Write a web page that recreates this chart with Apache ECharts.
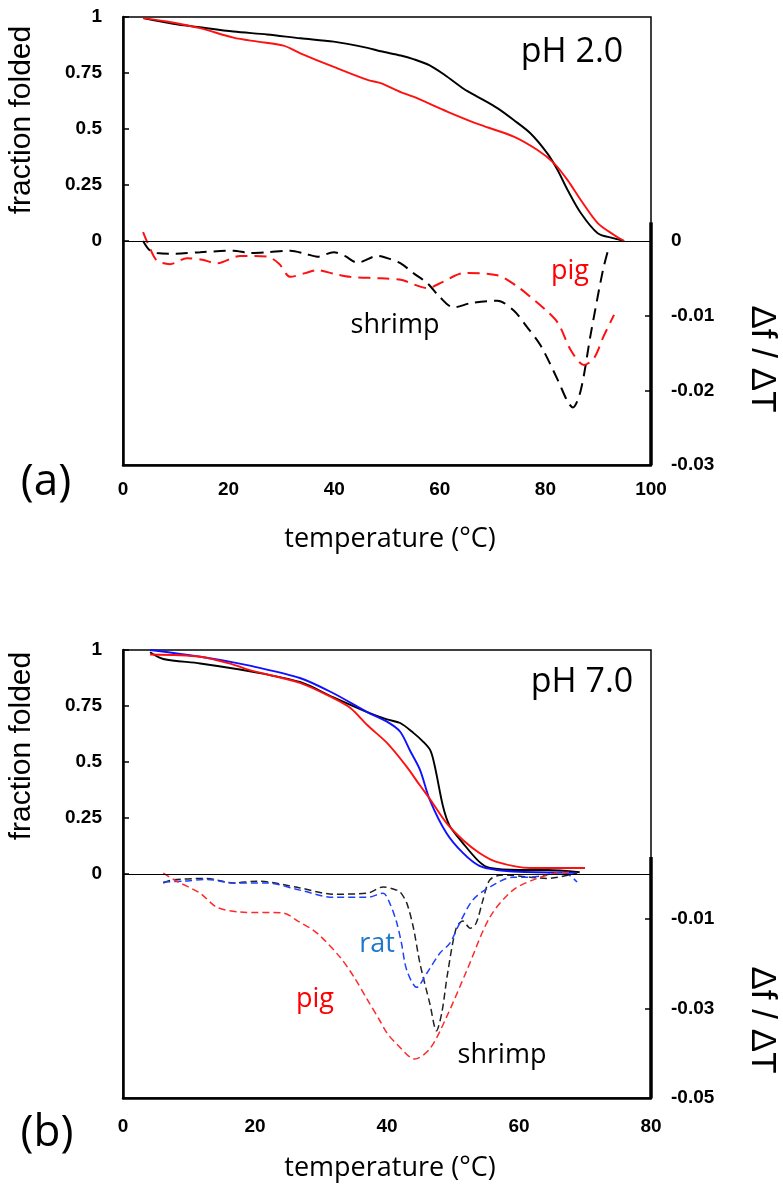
<!DOCTYPE html>
<html>
<head>
<meta charset="utf-8">
<script src="https://cdn.jsdelivr.net/npm/echarts@6/dist/echarts.min.js"></script>
<style>
html,body{margin:0;padding:0;background:#fff;}
#chart{width:783px;height:1184px;}
</style>
</head>
<body>
<div id="chart"></div>
<script>
// ---------- Panel (a): pH 2.0 ----------
const a_shrimpT = [3.8, 9.5, 14.6, 20.9, 27.3, 33.6, 39.9, 46.3, 48.8, 52.6, 55.0, 58.0, 61.0, 64.5, 67.7, 70.9, 74.0, 77.2, 80.4, 82.3, 84.2, 86.7, 89.9, 93.0, 94.9];
const a_shrimpF = [0.995, 0.97, 0.954, 0.935, 0.922, 0.905, 0.89, 0.862, 0.847, 0.828, 0.812, 0.785, 0.74, 0.68, 0.637, 0.593, 0.54, 0.48, 0.39, 0.317, 0.228, 0.125, 0.035, 0.012, 0.0];
const a_pigT = [3.8, 8.3, 14.6, 20.9, 25.5, 30.4, 33.6, 39.8, 46.3, 48.8, 52.6, 55.0, 61.5, 67.7, 74.0, 78.5, 81.6, 84.2, 86.7, 89.9, 93.0, 94.9];
const a_pigF = [0.995, 0.98, 0.95, 0.908, 0.89, 0.872, 0.838, 0.778, 0.719, 0.705, 0.665, 0.644, 0.577, 0.518, 0.466, 0.406, 0.348, 0.272, 0.183, 0.08, 0.027, 0.0];
const a_shrimpDT = [3.8, 5.0, 6.4, 10, 14.6, 20.9, 24, 27.3, 31.7, 34.5, 36.8, 39.9, 42, 44.4, 48.2, 50.5, 52.6, 55, 57.7, 60, 62.6, 66, 70.9, 74, 76.5, 79.1, 82.4, 84.2, 85.2, 86.7, 88.6, 90.9, 92];
const a_shrimpD = [0.0, -0.0012, -0.0016, -0.0017, -0.0015, -0.0013, -0.0016, -0.0015, -0.0013, -0.0017, -0.0021, -0.0015, -0.002, -0.0029, -0.002, -0.0024, -0.003, -0.0043, -0.0057, -0.0075, -0.0089, -0.0083, -0.008, -0.0093, -0.0115, -0.014, -0.0187, -0.0215, -0.0223, -0.02, -0.0124, -0.0039, -0.0009];
const a_pigDT = [3.8, 5.0, 6.4, 8.9, 12.1, 15.0, 17.8, 22.2, 27.3, 29.5, 31.7, 34.5, 36.8, 40, 43, 48.8, 52.6, 57.7, 60.5, 64.5, 70.9, 74.5, 77.2, 80, 82.4, 84.8, 87.3, 89.2, 91, 93];
const a_pigD = [0.0012, -0.0008, -0.0026, -0.0031, -0.0023, -0.0025, -0.003, -0.002, -0.0021, -0.003, -0.0048, -0.0043, -0.0039, -0.0044, -0.0048, -0.005, -0.0052, -0.0063, -0.0055, -0.0043, -0.0046, -0.006, -0.0075, -0.0092, -0.011, -0.0146, -0.0166, -0.0157, -0.0128, -0.0099];

// ---------- Panel (b): pH 7.0 ----------
const b_shrimpT = [4.1, 6.1, 11.7, 19.2, 26.8, 31.8, 37, 40, 42, 44, 45.5, 46.6, 47.3, 48.5, 49.5, 51.5, 54, 55.6, 60.1, 64.2, 69.2];
const b_shrimpF = [0.99, 0.96, 0.94, 0.905, 0.857, 0.79, 0.723, 0.69, 0.674, 0.63, 0.59, 0.55, 0.473, 0.3, 0.215, 0.138, 0.054, 0.027, 0.018, 0.018, 0.008];
const b_ratT = [4.1, 11.7, 16.7, 19.2, 26.8, 31.8, 37, 40, 42, 43.5, 45, 46.5, 49, 51.5, 54, 56.6, 60.1, 68.8];
const b_ratF = [1.0, 0.97, 0.945, 0.93, 0.875, 0.808, 0.723, 0.68, 0.635, 0.55, 0.465, 0.33, 0.183, 0.094, 0.036, 0.018, 0.01, 0.005];
const b_pigT = [4.1, 11.7, 16.7, 19.2, 26.8, 31.8, 34.5, 37, 40, 43, 45, 46.5, 49, 51.5, 54, 56.6, 61.7, 70];
const b_pigF = [0.98, 0.97, 0.935, 0.91, 0.853, 0.786, 0.74, 0.665, 0.585, 0.478, 0.395, 0.335, 0.228, 0.152, 0.094, 0.054, 0.027, 0.027];
const b_shrimpDT = [6.1, 7.6, 12.7, 16.7, 20.3, 26.8, 31.8, 37, 39.4, 41.5, 42, 43, 44, 45, 46.5, 47.5, 48.3, 49.2, 50.5, 51.5, 52.6, 53.5, 54.5, 55.6, 57.6, 61.7, 64.2, 68.8];
const b_shrimpD = [-0.002, -0.0013, -0.001, -0.002, -0.0016, -0.0031, -0.0045, -0.0043, -0.0029, -0.0036, -0.004, -0.0065, -0.012, -0.02, -0.029, -0.035, -0.031, -0.022, -0.012, -0.0105, -0.0121, -0.011, -0.006, -0.0013, -0.0002, -0.0007, -0.001, 0.0002];
const b_ratDT = [6.1, 9.1, 12.7, 16.7, 21.8, 26.8, 31.8, 37, 39.4, 40.5, 41.5, 42.2, 43, 44.5, 46, 48, 49.5, 51, 53, 55.6, 59.1, 61.7, 66.7, 68.8];
const b_ratD = [-0.0018, -0.0016, -0.0012, -0.002, -0.002, -0.0036, -0.0052, -0.0052, -0.0043, -0.0068, -0.011, -0.0155, -0.0215, -0.0253, -0.0222, -0.0177, -0.0155, -0.011, -0.0058, -0.0029, -0.0007, -0.0007, 0.0004, -0.0018];
const b_pigDT = [6.1, 8, 11.7, 14.2, 17.7, 24.2, 26.5, 29.4, 32.9, 35, 37, 38.9, 40, 41.5, 44.2, 46.5, 49, 52.1, 55.6, 59.1, 62.7, 65.8, 68.2];
const b_pigD = [0.0002, -0.0015, -0.0043, -0.0074, -0.0085, -0.0087, -0.0105, -0.0132, -0.0186, -0.023, -0.028, -0.0327, -0.0355, -0.038, -0.0413, -0.039, -0.032, -0.0215, -0.0096, -0.0036, -0.001, 0.0002, 0.0004];

// ---------- Tick labels ----------
const xTicksA = [0, 20, 40, 60, 80, 100];
const xTicksB = [0, 20, 40, 60, 80];
const leftTicks = [0, 0.25, 0.5, 0.75, 1];
const rightTicksA = [0, -0.01, -0.02, -0.03];
const rightTickMarksA = [-0.01, -0.02];
const rightTicksB = [-0.01, -0.03, -0.05];
const rightTickMarksB = [-0.01, -0.03];

const zip = (xs, ys) => xs.map((x, i) => [x, ys[i]]);

const RED = '#ff1010', BLACK = '#000000', BLUE = '#1010ff';
const labelFont = { color: '#000', fontFamily: '"Liberation Sans", Arial, sans-serif', fontWeight: 'bold', fontSize: 19 };

function xAxisCfg(grid, max, ticks, margin) {
  return {
    type: 'value', gridIndex: grid, min: 0, max: max, interval: 20,
    axisLine: { show: true, onZero: false, lineStyle: { color: '#000', width: 2.5 } },
    axisTick: { show: false },
    splitLine: { show: false },
    axisLabel: Object.assign({ margin: margin, customValues: ticks }, labelFont)
  };
}
function leftAxisCfg(grid) {
  return {
    type: 'value', gridIndex: grid, position: 'left', min: -1, max: 1, interval: 0.25,
    axisLine: { show: true, onZero: false, lineStyle: { color: '#000', width: 2.5 } },
    axisTick: { show: true, inside: true, length: 6, customValues: leftTicks, lineStyle: { color: '#000', width: 1.5 } },
    splitLine: { show: false },
    axisLabel: Object.assign({ margin: 21, customValues: leftTicks, formatter: v => v < 0 ? '' : String(v) }, labelFont)
  };
}
function rightAxisCfg(grid, mn, mx, itv, labels, marks) {
  return {
    type: 'value', gridIndex: grid, position: 'right', min: mn, max: mx, interval: itv,
    axisLine: { show: false, onZero: false },
    axisTick: { show: true, inside: true, length: 6, customValues: marks, lineStyle: { color: '#000', width: 1.5 } },
    splitLine: { show: false },
    axisLabel: Object.assign({ margin: 20, customValues: labels, formatter: v => v > 0 ? '' : (v === 0 ? '0' : String(+v.toFixed(2))) }, labelFont)
  };
}

function solid(name, data, color, xi, yi, extra) {
  return Object.assign({
    name: name, type: 'line', xAxisIndex: xi, yAxisIndex: yi, data: data,
    showSymbol: false, symbol: 'none', smooth: 0.3,
    lineStyle: { color: color, width: 1.9, type: 'solid' }
  }, extra || {});
}
function dashed(name, data, color, xi, yi, dash, w, extra) {
  return Object.assign({
    name: name, type: 'line', xAxisIndex: xi, yAxisIndex: yi, data: data,
    showSymbol: false, symbol: 'none', smooth: 0.3,
    lineStyle: { color: color, width: w, type: dash }
  }, extra || {});
}

const zeroLine = {
  markLine: { silent: true, symbol: 'none', animation: false, label: { show: false },
    lineStyle: { color: '#000', width: 1.2, type: 'solid' }, data: [{ yAxis: 0 }] }
};
function rightBar(x, top, bottom) {
  return {
    markLine: { silent: true, symbol: 'none', animation: false, label: { show: false },
      lineStyle: { color: '#000', width: 3.5, type: 'solid' },
      data: [[{ coord: [x, top] }, { coord: [x, bottom] }]] }
  };
}

const textFont = '"Open Sans", "Liberation Sans", sans-serif';
function txt(x, y, text, size, color, rot, fam) {
  return {
    type: 'text', x: x, y: y, rotation: rot || 0, silent: true,
    style: { text: text, fill: color || '#000', fontSize: size, fontFamily: fam || textFont,
      align: 'center', verticalAlign: 'middle' }
  };
}
const ARIAL = '"Liberation Sans", Arial, sans-serif';

const option = {
  animation: false,
  backgroundColor: '#fff',
  grid: [
    { left: 123, top: 17, width: 528, height: 448, show: true, borderColor: '#000', borderWidth: 1.5, backgroundColor: 'transparent' },
    { left: 123, top: 650, width: 528, height: 448, show: true, borderColor: '#000', borderWidth: 1.5, backgroundColor: 'transparent' }
  ],
  xAxis: [ xAxisCfg(0, 100, xTicksA, 15), xAxisCfg(1, 80, xTicksB, 19) ],
  yAxis: [
    leftAxisCfg(0),
    rightAxisCfg(0, -0.03, 0.03, 0.01, rightTicksA, rightTickMarksA),
    leftAxisCfg(1),
    rightAxisCfg(1, -0.05, 0.05, 0.02, rightTicksB, rightTickMarksB)
  ],
  series: [
    solid('shrimp', zip(a_shrimpT, a_shrimpF), BLACK, 0, 0, zeroLine),
    solid('pig', zip(a_pigT, a_pigF), RED, 0, 0),
    dashed('shrimp Δf/ΔT', zip(a_shrimpDT, a_shrimpD), BLACK, 0, 1, [12, 7], 2, rightBar(100, 0.0025, -0.03)),
    dashed('pig Δf/ΔT', zip(a_pigDT, a_pigD), RED, 0, 1, [12, 7], 2),

    solid('shrimp', zip(b_shrimpT, b_shrimpF), BLACK, 1, 2, zeroLine),
    solid('rat', zip(b_ratT, b_ratF), BLUE, 1, 2),
    solid('pig', zip(b_pigT, b_pigF), RED, 1, 2),
    dashed('shrimp Δf/ΔT', zip(b_shrimpDT, b_shrimpD), '#222', 1, 3, [7, 4], 1.5, rightBar(80, 0.0038, -0.05)),
    dashed('rat Δf/ΔT', zip(b_ratDT, b_ratD), '#2040ff', 1, 3, [7, 4], 1.5),
    dashed('pig Δf/ΔT', zip(b_pigDT, b_pigD), '#ff2a2a', 1, 3, [7, 4], 1.5)
  ],
  graphic: [
    // panel (a)
    txt(22, 120, 'fraction folded', 30, '#000', Math.PI / 2, ARIAL),
    txt(762, 359, 'Δf / ΔT', 35, '#000', -Math.PI / 2, ARIAL),
    txt(572, 52, 'pH 2.0', 34),
    txt(570, 271, 'pig', 27, '#ff0000'),
    txt(395, 325, 'shrimp', 27),
    txt(46, 482, '(a)', 44),
    txt(390, 539, 'temperature (°C)', 27),
    // panel (b)
    txt(22, 746, 'fraction folded', 30, '#000', Math.PI / 2, ARIAL),
    txt(762, 1020, 'Δf / ΔT', 35, '#000', -Math.PI / 2, ARIAL),
    txt(582, 682, 'pH 7.0', 34),
    txt(377, 944, 'rat', 27, '#1f78c8'),
    txt(315, 999, 'pig', 27, '#ff0000'),
    txt(502, 1055, 'shrimp', 27),
    txt(47, 1133, '(b)', 44),
    txt(390, 1168, 'temperature (°C)', 27)
  ]
};

const chart = echarts.init(document.getElementById('chart'), null, { renderer: 'canvas' });
chart.setOption(option);
</script>
</body>
</html>
